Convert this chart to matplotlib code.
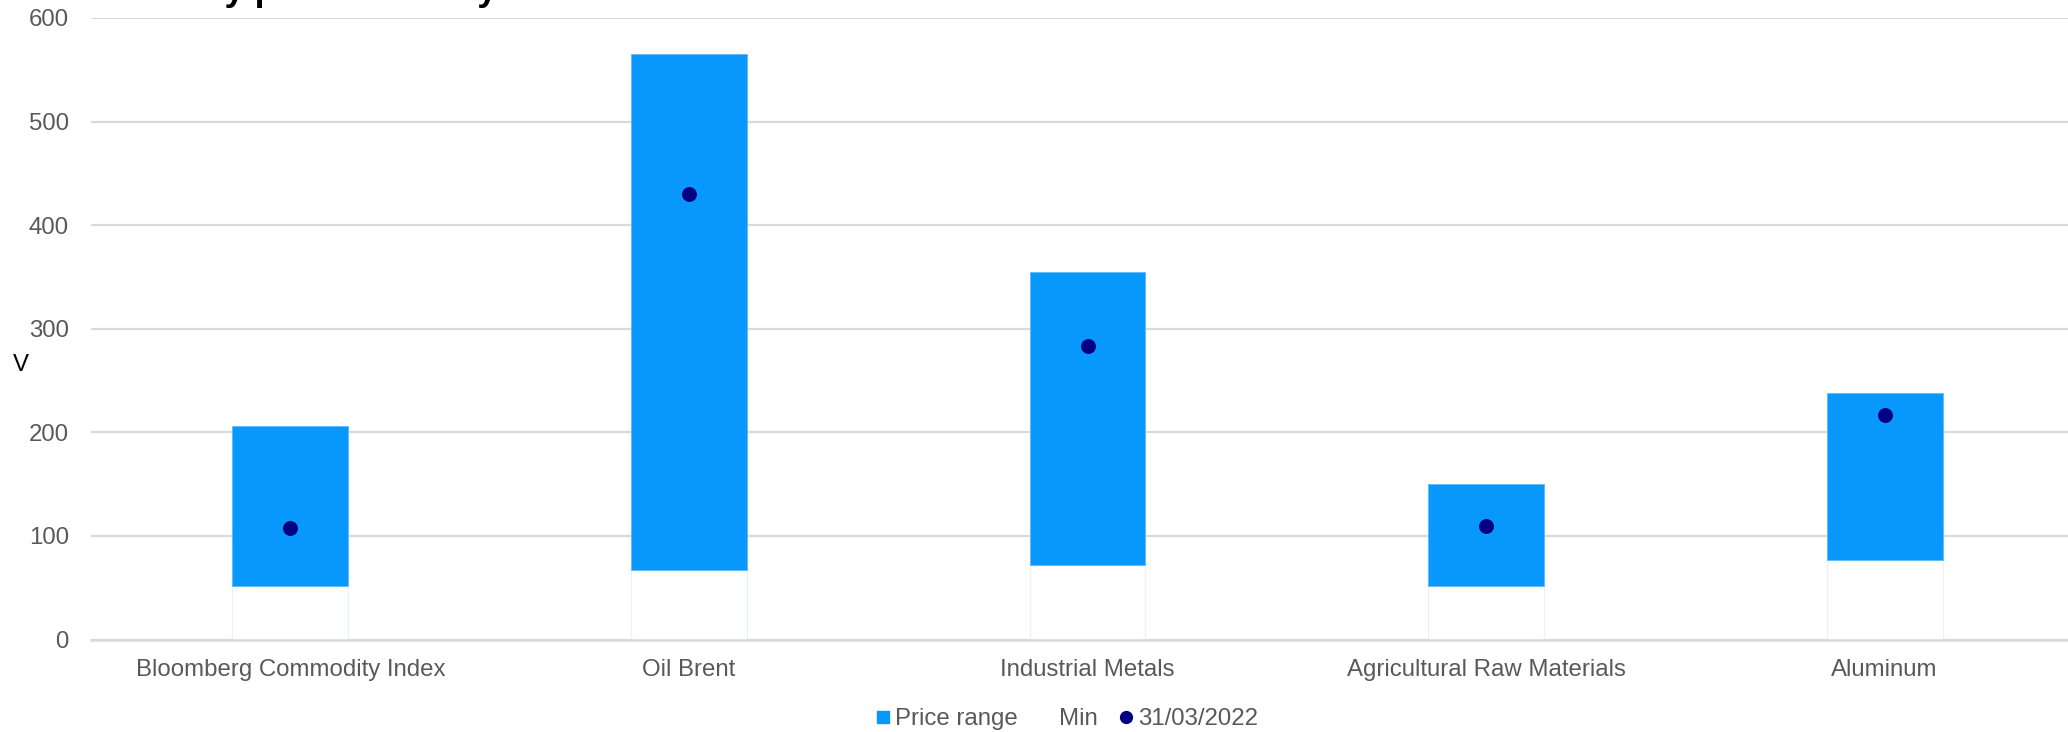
#!/usr/bin/env python3
"""
plot.py
Commodity price ranges (min/max) with the 31/03/2022 level as a dot.
"""

import matplotlib
matplotlib.use('Agg')
import matplotlib.pyplot as plt
from matplotlib.lines import Line2D

# Data
categories = ['Bloomberg Commodity Index', 'Oil Brent', 'Industrial Metals',
              'Agricultural Raw Materials', 'Aluminum']
range_min = [52, 67, 72, 52, 77]
range_max = [206, 565, 355, 150, 238]
last_value = [108, 430, 283, 110, 217]
y_ticks = [0, 100, 200, 300, 400, 500, 600]

# Colours
BAR_BLUE = '#0898FB'
DOT_NAVY = '#000080'
GRID_GREY = '#D9D9D9'
TEXT_GREY = '#595959'

W, H = 2068, 732
DPI = 100
FS = 17.3

plt.rcParams['font.family'] = ['Liberation Sans', 'DejaVu Sans']

fig = plt.figure(figsize=(W / DPI, H / DPI), dpi=DPI)
# axes spans past the right edge, the reference is cropped there
ax = fig.add_axes([91 / W, 92.5 / H, 1993 / W, 621.5 / H])

x = list(range(len(categories)))
heights = [hi - lo for lo, hi in zip(range_min, range_max)]
bar_w = 0.291

# invisible "Min" bars, only a faint edge shows
ax.bar(x, range_min, width=bar_w, color='white', edgecolor='#E6F3FF',
       linewidth=1.0, zorder=2)
ax.bar(x, heights, width=bar_w, bottom=range_min, color=BAR_BLUE,
       edgecolor='#5DB8FC', linewidth=0.6, zorder=3)
ax.scatter(x, last_value, s=95, color=DOT_NAVY, zorder=4)

ax.set_xlim(-0.5, len(categories) - 0.5)
ax.set_ylim(0, 600)
ax.set_yticks(y_ticks)
ax.yaxis.grid(True, color=GRID_GREY, linewidth=1.6, zorder=0)
ax.set_axisbelow(True)
for side in ['top', 'right', 'left']:
    ax.spines[side].set_visible(False)
ax.spines['bottom'].set_color(GRID_GREY)
ax.spines['bottom'].set_linewidth(1.8)

ax.set_xticks(x)
ax.set_xticklabels(categories)
ax.tick_params(axis='x', length=0, pad=14, labelsize=FS, labelcolor=TEXT_GREY)
ax.tick_params(axis='y', length=0, pad=16, labelsize=FS, labelcolor=TEXT_GREY)

fig.text(21 / W, 1 - 365 / H, 'V', fontsize=FS, color='black',
         ha='center', va='center')

# title, cut off at the top of the picture as in the reference
fig.text(46 / W, 1.0, 'Commodity price volatility', fontsize=26,
         fontweight='bold', color='black', ha='left', va='baseline')

handles = [
    Line2D([], [], marker='s', linestyle='none', markersize=8.5,
           markerfacecolor=BAR_BLUE, markeredgecolor=BAR_BLUE),
    Line2D([], [], marker='s', linestyle='none', markersize=8.5,
           markerfacecolor='white', markeredgecolor='white'),
    Line2D([], [], marker='o', linestyle='none', markersize=8.5,
           markerfacecolor=DOT_NAVY, markeredgecolor=DOT_NAVY),
]
fig.legend(handles, ['Price range', 'Min', '31/03/2022'], loc='center',
           bbox_to_anchor=(1067 / W, 1 - 719 / H), ncol=3, frameon=False,
           fontsize=FS, labelcolor=TEXT_GREY, handlelength=0.6,
           handletextpad=0.2, columnspacing=0.9)

fig.savefig('out.png', dpi=DPI)
